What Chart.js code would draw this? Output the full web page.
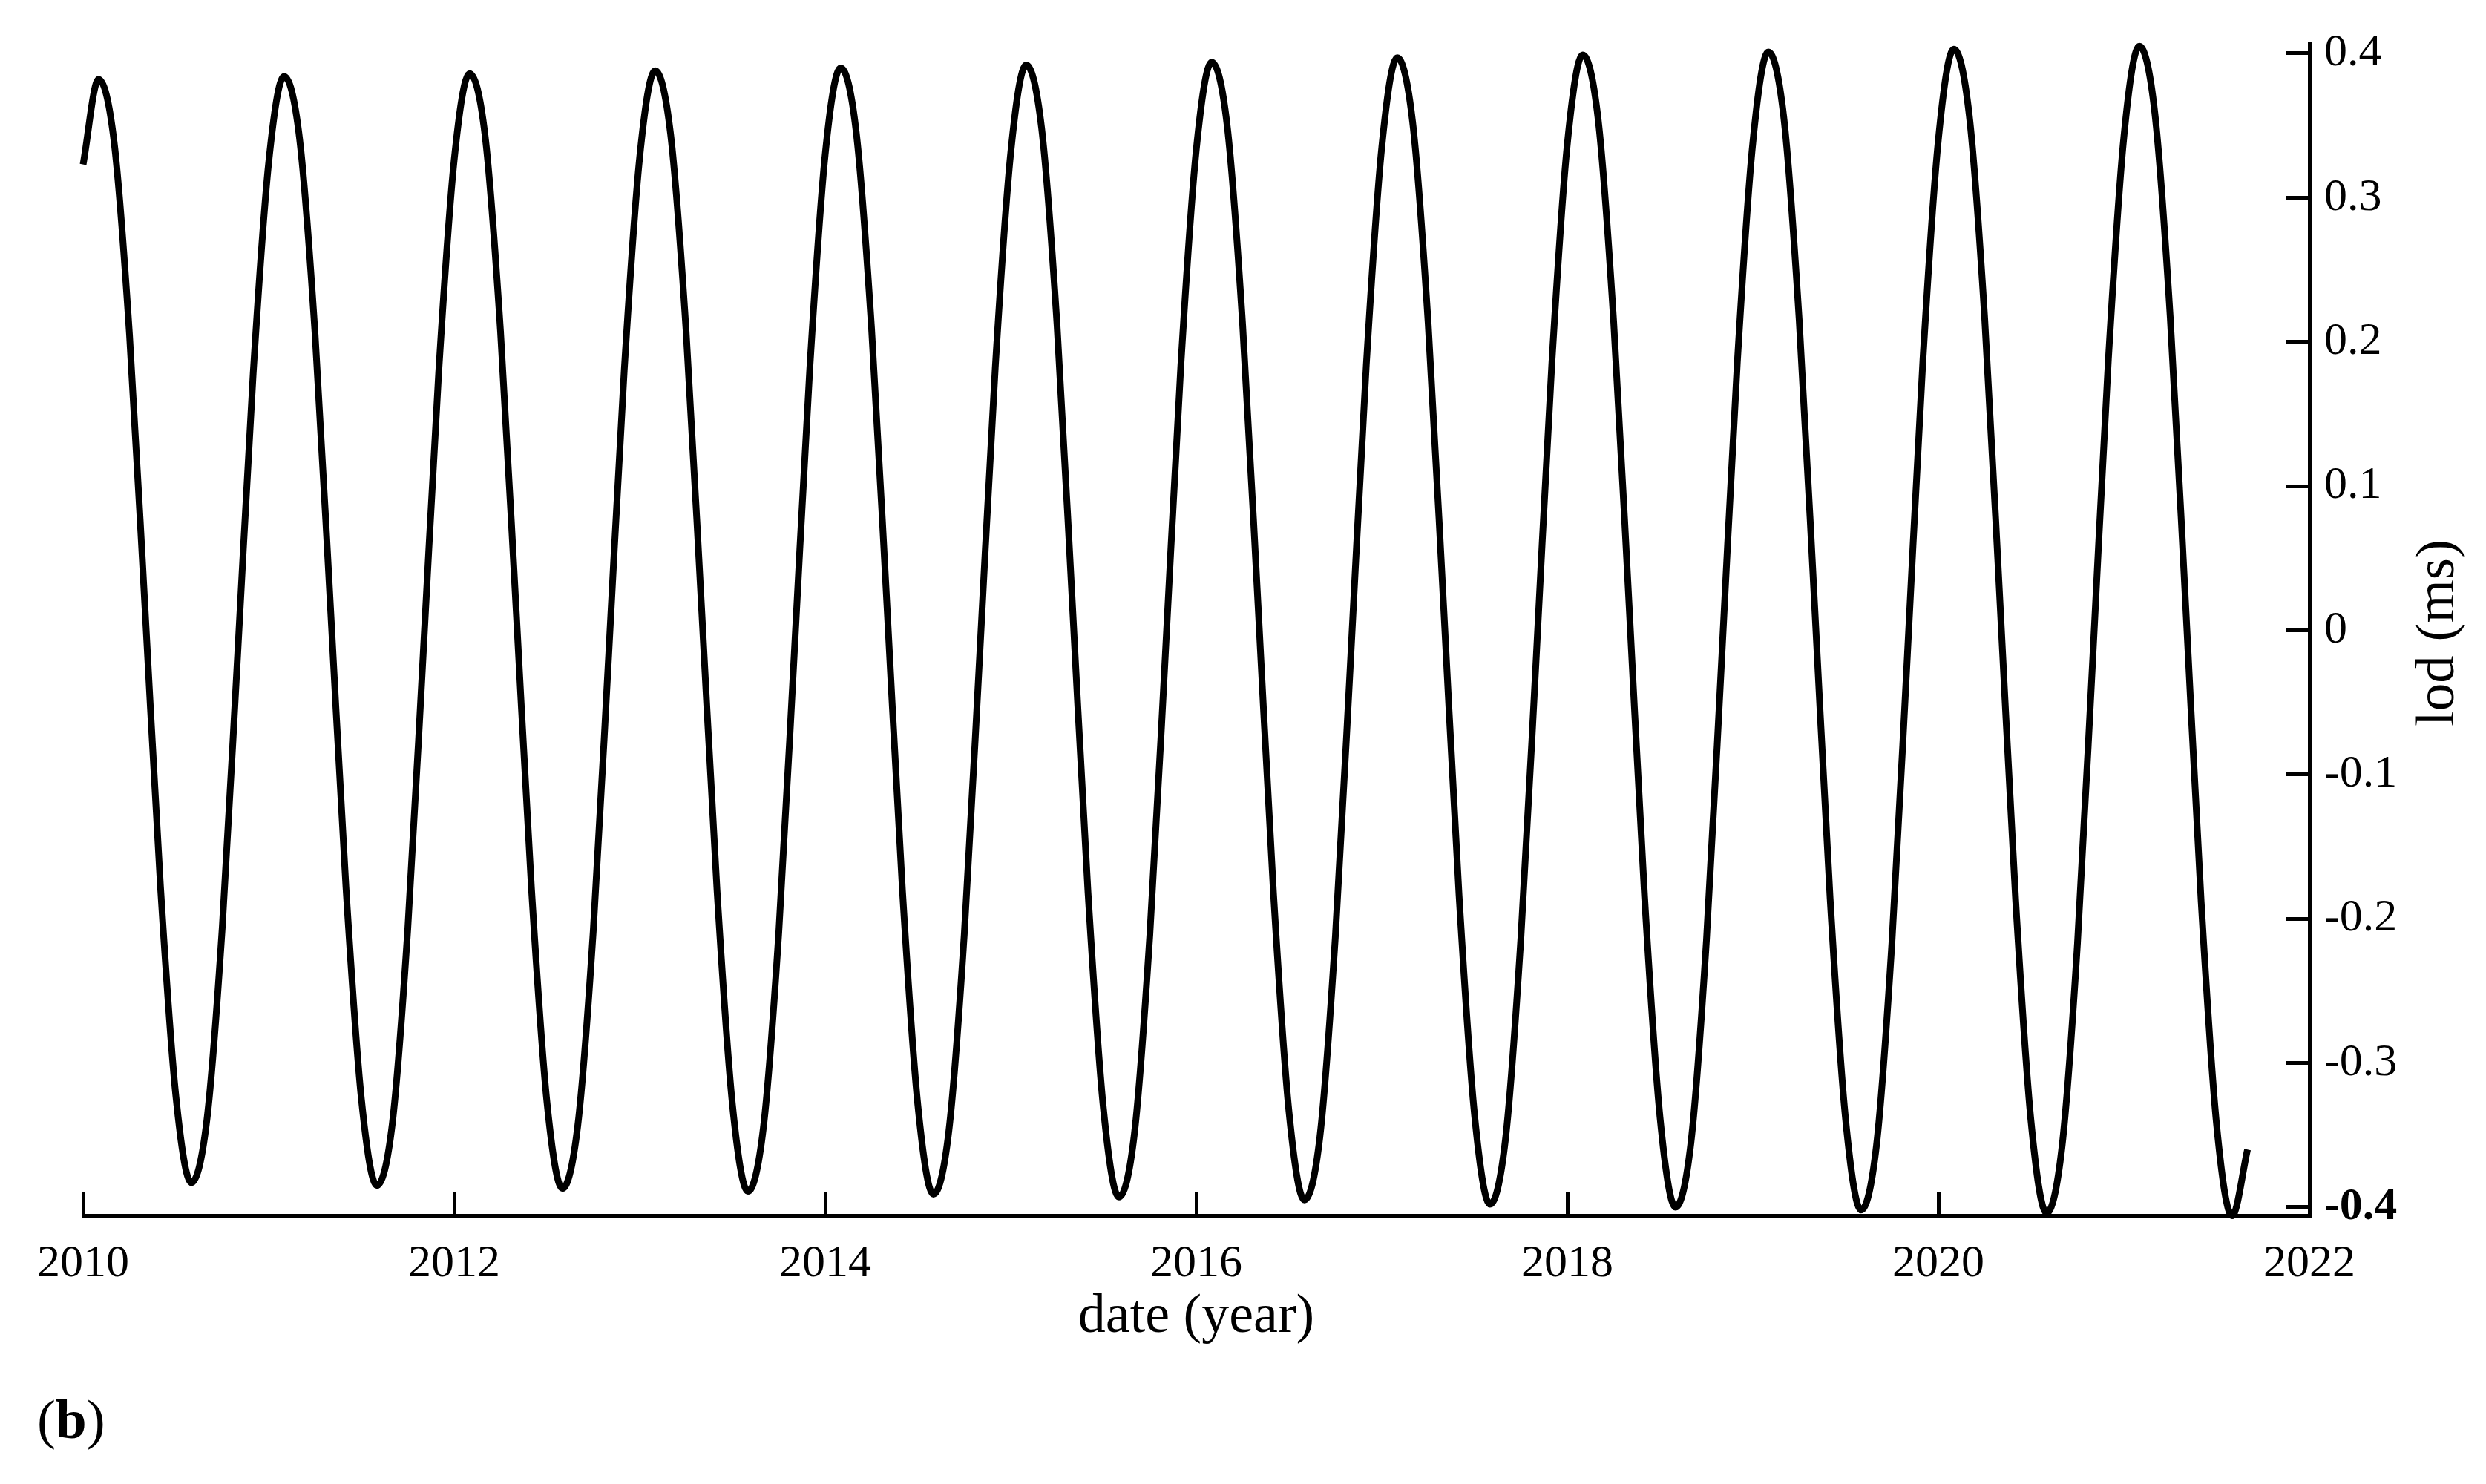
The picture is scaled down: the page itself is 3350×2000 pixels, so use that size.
<!DOCTYPE html>
<html>
<head>
<meta charset="utf-8">
<script src="https://cdn.jsdelivr.net/npm/chart.js@4.4.1/dist/chart.umd.min.js"></script>
<style>
  html, body { margin: 0; padding: 0; background: #fff; }
  #wrap { position: relative; width: 3350px; height: 2000px; }
</style>
</head>
<body>
<div id="wrap"><canvas id="lodChart"></canvas></div>
<script>
// Monthly samples of the annual lod term (ms)
const years = [2010, 2011, 2012, 2013, 2014, 2015, 2016, 2017, 2018, 2019, 2020, 2021];
const lod2010 = [0.323, 0.382, 0.339, 0.205, 0.016, -0.177, -0.323, -0.383, -0.340, -0.206, -0.016, 0.178];
const lod2011 = [0.324, 0.384, 0.341, 0.206, 0.016, -0.178, -0.325, -0.385, -0.342, -0.207, -0.016, 0.179];
const lod2012 = [0.326, 0.386, 0.343, 0.207, 0.016, -0.179, -0.327, -0.387, -0.343, -0.208, -0.016, 0.180];
const lod2013 = [0.328, 0.388, 0.344, 0.208, 0.016, -0.180, -0.329, -0.389, -0.345, -0.209, -0.016, 0.181];
const lod2014 = [0.330, 0.390, 0.346, 0.209, 0.016, -0.181, -0.330, -0.391, -0.347, -0.210, -0.016, 0.182];
const lod2015 = [0.331, 0.392, 0.348, 0.211, 0.016, -0.182, -0.332, -0.393, -0.349, -0.211, -0.017, 0.183];
const lod2016 = [0.333, 0.394, 0.350, 0.212, 0.017, -0.183, -0.334, -0.395, -0.351, -0.212, -0.017, 0.184];
const lod2017 = [0.335, 0.397, 0.352, 0.213, 0.017, -0.184, -0.336, -0.398, -0.353, -0.213, -0.017, 0.185];
const lod2018 = [0.337, 0.399, 0.354, 0.214, 0.017, -0.185, -0.338, -0.400, -0.355, -0.215, -0.017, 0.186];
const lod2019 = [0.338, 0.401, 0.356, 0.215, 0.017, -0.186, -0.339, -0.402, -0.357, -0.216, -0.017, 0.187];
const lod2020 = [0.340, 0.403, 0.357, 0.216, 0.017, -0.187, -0.341, -0.404, -0.358, -0.217, -0.017, 0.188];
const lod2021 = [0.342, 0.405, 0.359, 0.217, 0.017, -0.188, -0.343, -0.406, -0.360];
const lodByYear = [lod2010, lod2011, lod2012, lod2013, lod2014, lod2015,
                   lod2016, lod2017, lod2018, lod2019, lod2020, lod2021];

const xMin = 2010, xMax = 2022, xStep = 2;
const yMin = -0.4057, yMax = 0.4072, yStep = 0.1;

const xTitle = 'date (year)';
const yTitle = 'lod (ms)';
const panelLabel = 'b';

const serif = "'Liberation Serif', 'Times New Roman', serif";

// one point per month
const points = [];
years.forEach((yr, i) => {
  lodByYear[i].forEach((v, m) => points.push({ x: yr + m / 12, y: v }));
});

// axis title on the right reads bottom-to-top, plus the panel letter
const extraText = {
  id: 'extraText',
  afterDraw(chart) {
    const { ctx, chartArea, scales } = chart;
    ctx.save();
    ctx.fillStyle = '#000';
    ctx.font = `75px ${serif}`;
    ctx.textAlign = 'center';
    ctx.textBaseline = 'alphabetic';
    ctx.translate(scales.y.left + 194, (chartArea.top + chartArea.bottom) / 2 + 5);
    ctx.rotate(-Math.PI / 2);
    ctx.fillText(yTitle, 0, 0);
    ctx.restore();

    ctx.save();
    ctx.fillStyle = '#000';
    ctx.textBaseline = 'alphabetic';
    ctx.textAlign = 'left';
    let x = 50;
    const base = 1938;
    ctx.font = `75px ${serif}`;
    ctx.fillText('(', x, base);
    x += ctx.measureText('(').width;
    ctx.font = `bold 75px ${serif}`;
    ctx.fillText(panelLabel, x, base);
    x += ctx.measureText(panelLabel).width;
    ctx.font = `75px ${serif}`;
    ctx.fillText(')', x, base);
    ctx.restore();
  }
};

Chart.defaults.font.family = serif;
Chart.defaults.color = '#000';

new Chart(document.getElementById('lodChart'), {
  type: 'line',
  data: {
    datasets: [{
      data: points,
      borderColor: '#000',
      borderWidth: 9,
      pointRadius: 0,
      cubicInterpolationMode: 'monotone',
      borderJoinStyle: 'round',
      fill: false,
      clip: false
    }]
  },
  options: {
    responsive: true,
    maintainAspectRatio: false,
    animation: false,
    layout: { padding: { top: 58, left: 112, right: 0, bottom: 180 } },
    plugins: {
      legend: { display: false },
      tooltip: { enabled: false }
    },
    scales: {
      x: {
        type: 'linear',
        position: 'bottom',
        min: xMin,
        max: xMax,
        afterFit: s => {
          s.height = 182;
          s.paddingLeft = 0;
          s.paddingRight = 0;
        },
        ticks: {
          stepSize: xStep,
          autoSkip: false,
          maxRotation: 0,
          padding: 61,
          color: '#000',
          font: { size: 62 },
          callback: v => String(v)
        },
        grid: {
          display: true,
          drawOnChartArea: false,
          drawTicks: true,
          tickLength: -32,
          lineWidth: 5,
          color: '#000'
        },
        border: { display: true, width: 5, color: '#000' },
        title: {
          display: true,
          text: xTitle,
          color: '#000',
          font: { size: 74 },
          padding: 0
        }
      },
      y: {
        type: 'linear',
        position: 'right',
        min: yMin,
        max: yMax,
        afterFit: s => {
          s.width = 238;
          s.paddingTop = 0;
          s.paddingBottom = 0;
        },
        ticks: {
          stepSize: yStep,
          includeBounds: false,
          padding: 52,
          color: '#000',
          font: ctx => ({
            size: 62,
            weight: ctx.tick && Math.abs(ctx.tick.value + 0.4) < 1e-9 ? 'bold' : 'normal'
          })
        },
        grid: {
          display: true,
          drawOnChartArea: false,
          drawTicks: true,
          tickLength: -32,
          lineWidth: 5,
          color: '#000'
        },
        border: { display: true, width: 5, color: '#000' }
      }
    }
  },
  plugins: [extraText]
});
</script>
</body>
</html>
